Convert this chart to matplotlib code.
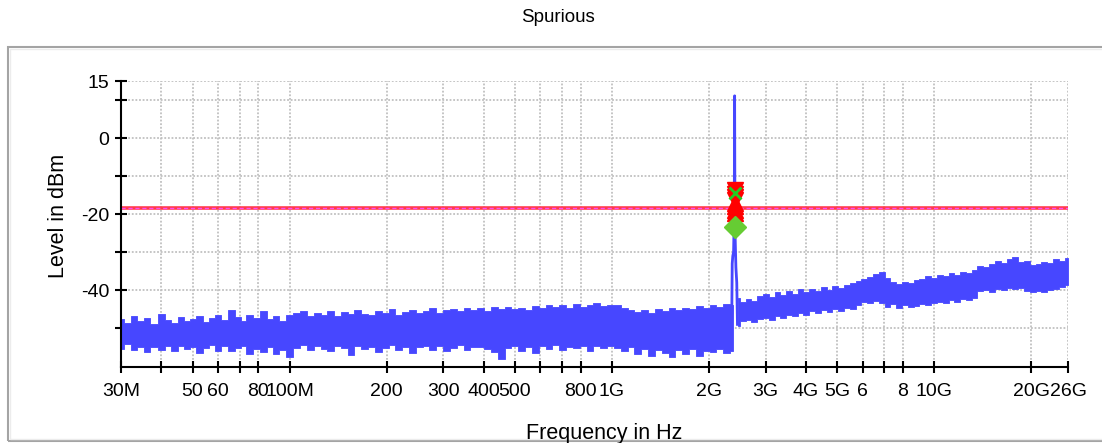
import matplotlib
matplotlib.use('Agg')
import matplotlib.pyplot as plt
import matplotlib.patches as patches

plt.rcParams['font.family'] = ['Liberation Sans', 'DejaVu Sans']

# x axis ticks (MHz) and their labels
tick_freqs = [30, 40, 50, 60, 70, 80, 100, 200, 300, 400, 500, 600, 700, 800, 1000,
              2000, 3000, 4000, 5000, 6000, 7000, 8000, 10000, 20000, 26000]
tick_labels = ['30M', '', '50', '60', '', '80', '100M', '200', '300', '400', '500', '', '',
               '800', '1G', '2G', '3G', '4G', '5G', '6', '', '8', '10G', '20G', '26G']
level_ticks = [15, 10, 0, -10, -20, -30, -40, -50]
level_labels = ['15', '', '0', '', '-20', '', '-40', '']

# noise floor envelope below the carrier (MHz, dBm)
low_freqs = [30, 31.5, 33, 34.5, 36, 38, 40, 42, 44, 46, 48, 50, 52.5, 55, 57.5, 60, 63, 66, 69,
             72, 75, 79, 83, 87, 91, 95, 100, 105, 110, 116, 122, 128, 134, 141, 148, 155, 163,
             171, 180, 189, 198, 208, 218, 229, 240, 252, 265, 278, 292, 307, 322, 338, 355,
             373, 392, 411, 432, 454, 476, 500, 525, 551, 579, 608, 638, 670, 704, 739, 776,
             815, 855, 898, 943, 990, 1040, 1092, 1146, 1204, 1264, 1327, 1393, 1463, 1536,
             1613, 1694, 1778, 1867, 1960, 2058, 2161, 2269, 2375]
low_upper = [-47.5, -48.5, -46.8, -48.0, -47.2, -48.8, -46.3, -47.9, -48.6, -47.0, -48.2, -47.6,
             -46.9, -48.3, -47.4, -46.4, -47.8, -45.2, -47.1, -48.0, -46.6, -47.3, -45.5, -47.7,
             -46.8, -48.1, -46.4,
             -46.0, -45.4, -46.8, -45.9, -46.5, -45.6, -46.9, -45.8, -46.3, -45.1, -46.2, -46.6,
             -45.5, -46.1, -45.0, -46.4, -45.7, -45.2, -46.0, -45.4, -44.8, -45.9, -45.3, -44.9,
             -45.6, -44.6, -45.2, -44.7, -45.4, -44.5, -45.0, -44.3, -44.9, -44.6, -45.1, -44.2,
             -44.8, -43.9, -44.5, -44.0, -44.7, -43.6, -44.3, -44.0, -43.3, -44.2, -43.8,
             -44.0, -44.6, -45.2, -45.8, -45.3, -45.9, -45.0, -45.5, -44.8, -45.3, -44.6, -44.9,
             -44.2, -44.7, -44.0, -44.4, -43.7, -44.0]
low_lower = [-55.4, -54.2, -55.8, -54.9, -56.3, -55.0, -55.7, -54.6, -56.1, -54.8, -55.5, -54.9,
             -56.4, -55.2, -54.4, -55.9, -54.7, -56.0, -55.3, -54.8, -56.7, -55.4, -56.2, -55.0,
             -56.9, -55.6, -57.6,
             -55.2, -54.4, -55.8, -54.8, -55.4, -56.0, -54.6, -55.1, -57.0, -54.7, -55.5, -54.9,
             -56.2, -55.3, -54.5, -55.8, -54.9, -56.5, -55.0, -54.6, -55.7, -54.8, -56.1, -55.2,
             -54.5, -55.6, -55.0, -54.9, -55.4, -56.3, -58.0, -55.3, -54.6, -55.9, -55.0, -56.6,
             -54.8, -55.4, -54.5, -55.7, -54.9, -55.3, -54.6, -56.0, -54.8, -55.2, -54.6,
             -55.3, -56.0, -55.0, -56.8, -55.4, -57.2, -55.6, -56.4, -57.5, -55.8, -56.9, -55.5,
             -57.3, -55.9, -56.2, -55.4, -56.6, -56.0]

# noise floor envelope above the carrier
high_freqs = [2455, 2550, 2650, 2760, 2880, 3000, 3130, 3260, 3400, 3540, 3690, 3850, 4010, 4180,
              4360, 4540, 4730, 4930, 5140, 5360, 5590, 5820, 6070, 6330, 6590, 6870, 7160, 7470,
              7780, 8110, 8460, 8810, 9190, 9580, 9980, 10400, 10850, 11300, 11780, 12280, 12800,
              13340, 13900, 14490, 15110, 15750, 16410, 17110, 17830, 18590, 19370, 20190, 21050,
              21940, 22870, 23840, 24850, 26000]
high_upper = [-42.0, -43.0, -42.2, -42.8, -41.5, -41.0, -41.8, -40.6, -41.3, -40.2, -40.9, -39.8,
              -40.4, -39.6, -40.1, -39.2, -39.9, -39.0, -39.5, -38.6, -38.2, -37.6, -37.0, -36.5,
              -35.8, -35.3, -36.8, -37.9, -38.4, -37.8, -38.2, -37.4, -37.0, -36.4, -36.8, -36.0,
              -36.3, -35.6, -35.9, -35.1, -35.5, -34.8, -33.6, -33.8, -33.0, -32.4, -32.9, -31.8,
              -31.2, -32.6, -32.2, -33.4, -33.1, -32.5, -32.8, -31.9, -32.3, -31.6]
high_lower = [-49.5, -48.2, -47.8, -48.4, -47.5, -47.4, -47.9, -46.8, -47.2, -46.5, -46.9, -46.0,
              -46.4, -45.6, -46.1, -45.3, -45.8, -45.0, -45.4, -44.6, -44.9, -43.8, -43.2, -43.5,
              -42.9, -43.3, -44.3, -43.6, -44.7, -44.0, -44.5, -44.2, -43.6, -43.9, -43.3, -43.0,
              -43.4, -42.7, -43.0, -42.2, -42.5, -42.0, -40.3, -40.0, -40.4, -39.6, -39.9, -39.5,
              -39.8, -39.4, -40.1, -40.5, -40.2, -40.6, -39.9, -39.6, -39.1, -38.6]

# carrier spike
spike_freqs = [2355, 2362, 2372, 2385, 2395, 2400, 2403, 2406, 2412, 2425, 2440, 2452]
spike_levels = [-46, -33, -31, -30, -22, -5, 11.1, -8, -26, -34, -38, -49]

limit_level = -18.4
marker_freq = 2403
red_top_levels = [-13.6, -14.6, -15.6, -16.4]
red_bottom_levels = [-17.0, -17.9, -18.9, -19.8]
cross_level = -14.5
diamond_level = -23.4

blue = '#4747ff'

fig = plt.figure(figsize=(11.02, 4.43), dpi=100)
fig.patch.set_facecolor('white')

# panel frame
fig.patches.append(patches.Rectangle((8 / 1102, 2 / 443), 1.2, 394 / 443, transform=fig.transFigure,
                                     fill=False, ec='#a4a4a4', lw=1.5, zorder=0))
fig.patches.append(patches.Rectangle((10 / 1102, 4 / 443), 1.2, 390 / 443, transform=fig.transFigure,
                                     fill=False, ec='#ececec', lw=1.0, zorder=0))

ax = fig.add_axes([121 / 1102, 76 / 443, 947 / 1102, 286 / 443])
ax.set_xscale('log')

ax.fill_between(low_freqs, low_lower, low_upper, step='mid', color=blue, lw=0.6, ec=blue, zorder=3)
ax.fill_between(high_freqs, high_lower, high_upper, step='mid', color=blue, lw=0.6, ec=blue, zorder=3)
ax.plot(spike_freqs, spike_levels, color=blue, lw=2.0, zorder=3)

ax.axhline(limit_level, color='#ff3b4a', lw=2.6, zorder=4)
ax.axhline(limit_level, color='#ff4cf0', lw=1.0, dashes=(3, 2), zorder=4)

ax.plot([marker_freq] * len(red_top_levels), red_top_levels, 'v', color='#ff0000', ms=12,
        mec='#ff0000', ls='none', zorder=5)
ax.plot([marker_freq] * len(red_bottom_levels), red_bottom_levels, '^', color='#ff0000', ms=12,
        mec='#ff0000', ls='none', zorder=5)
ax.plot([marker_freq], [cross_level], 'x', color='#22cc22', ms=9, mew=2, zorder=6)
ax.plot([marker_freq], [diamond_level], 'D', color='#66cc33', ms=11, mec='#66cc33', zorder=6)

ax.set_xlim(30, 26000)
ax.set_ylim(-60.2, 15)
ax.set_xticks(tick_freqs)
ax.set_xticklabels(tick_labels)
ax.minorticks_off()
ax.set_yticks(level_ticks)
ax.set_yticklabels(level_labels)

ax.grid(True, color='#c0c0c0', lw=1.3, dashes=(1, 1))
ax.set_axisbelow(True)
for s in ['top', 'right']:
    ax.spines[s].set_visible(False)
for s in ['left', 'bottom']:
    ax.spines[s].set_linewidth(1.5)
    ax.spines[s].set_zorder(6)
ax.tick_params(axis='both', direction='inout', length=9, width=1.5, labelsize=14, color='black')
ax.tick_params(axis='x', pad=7)
ax.tick_params(axis='y', pad=4)

fig.text(558 / 1102, 1 - 18 / 443, 'Spurious', ha='center', va='center', fontsize=13.5)
fig.text(59 / 1102, 0.512, 'Level in dBm', rotation=90, ha='center', va='center', fontsize=15.5)
fig.text(604 / 1102, 0.046, 'Frequency in Hz', ha='center', va='top', fontsize=15.5)

fig.savefig('out.png', dpi=100)
